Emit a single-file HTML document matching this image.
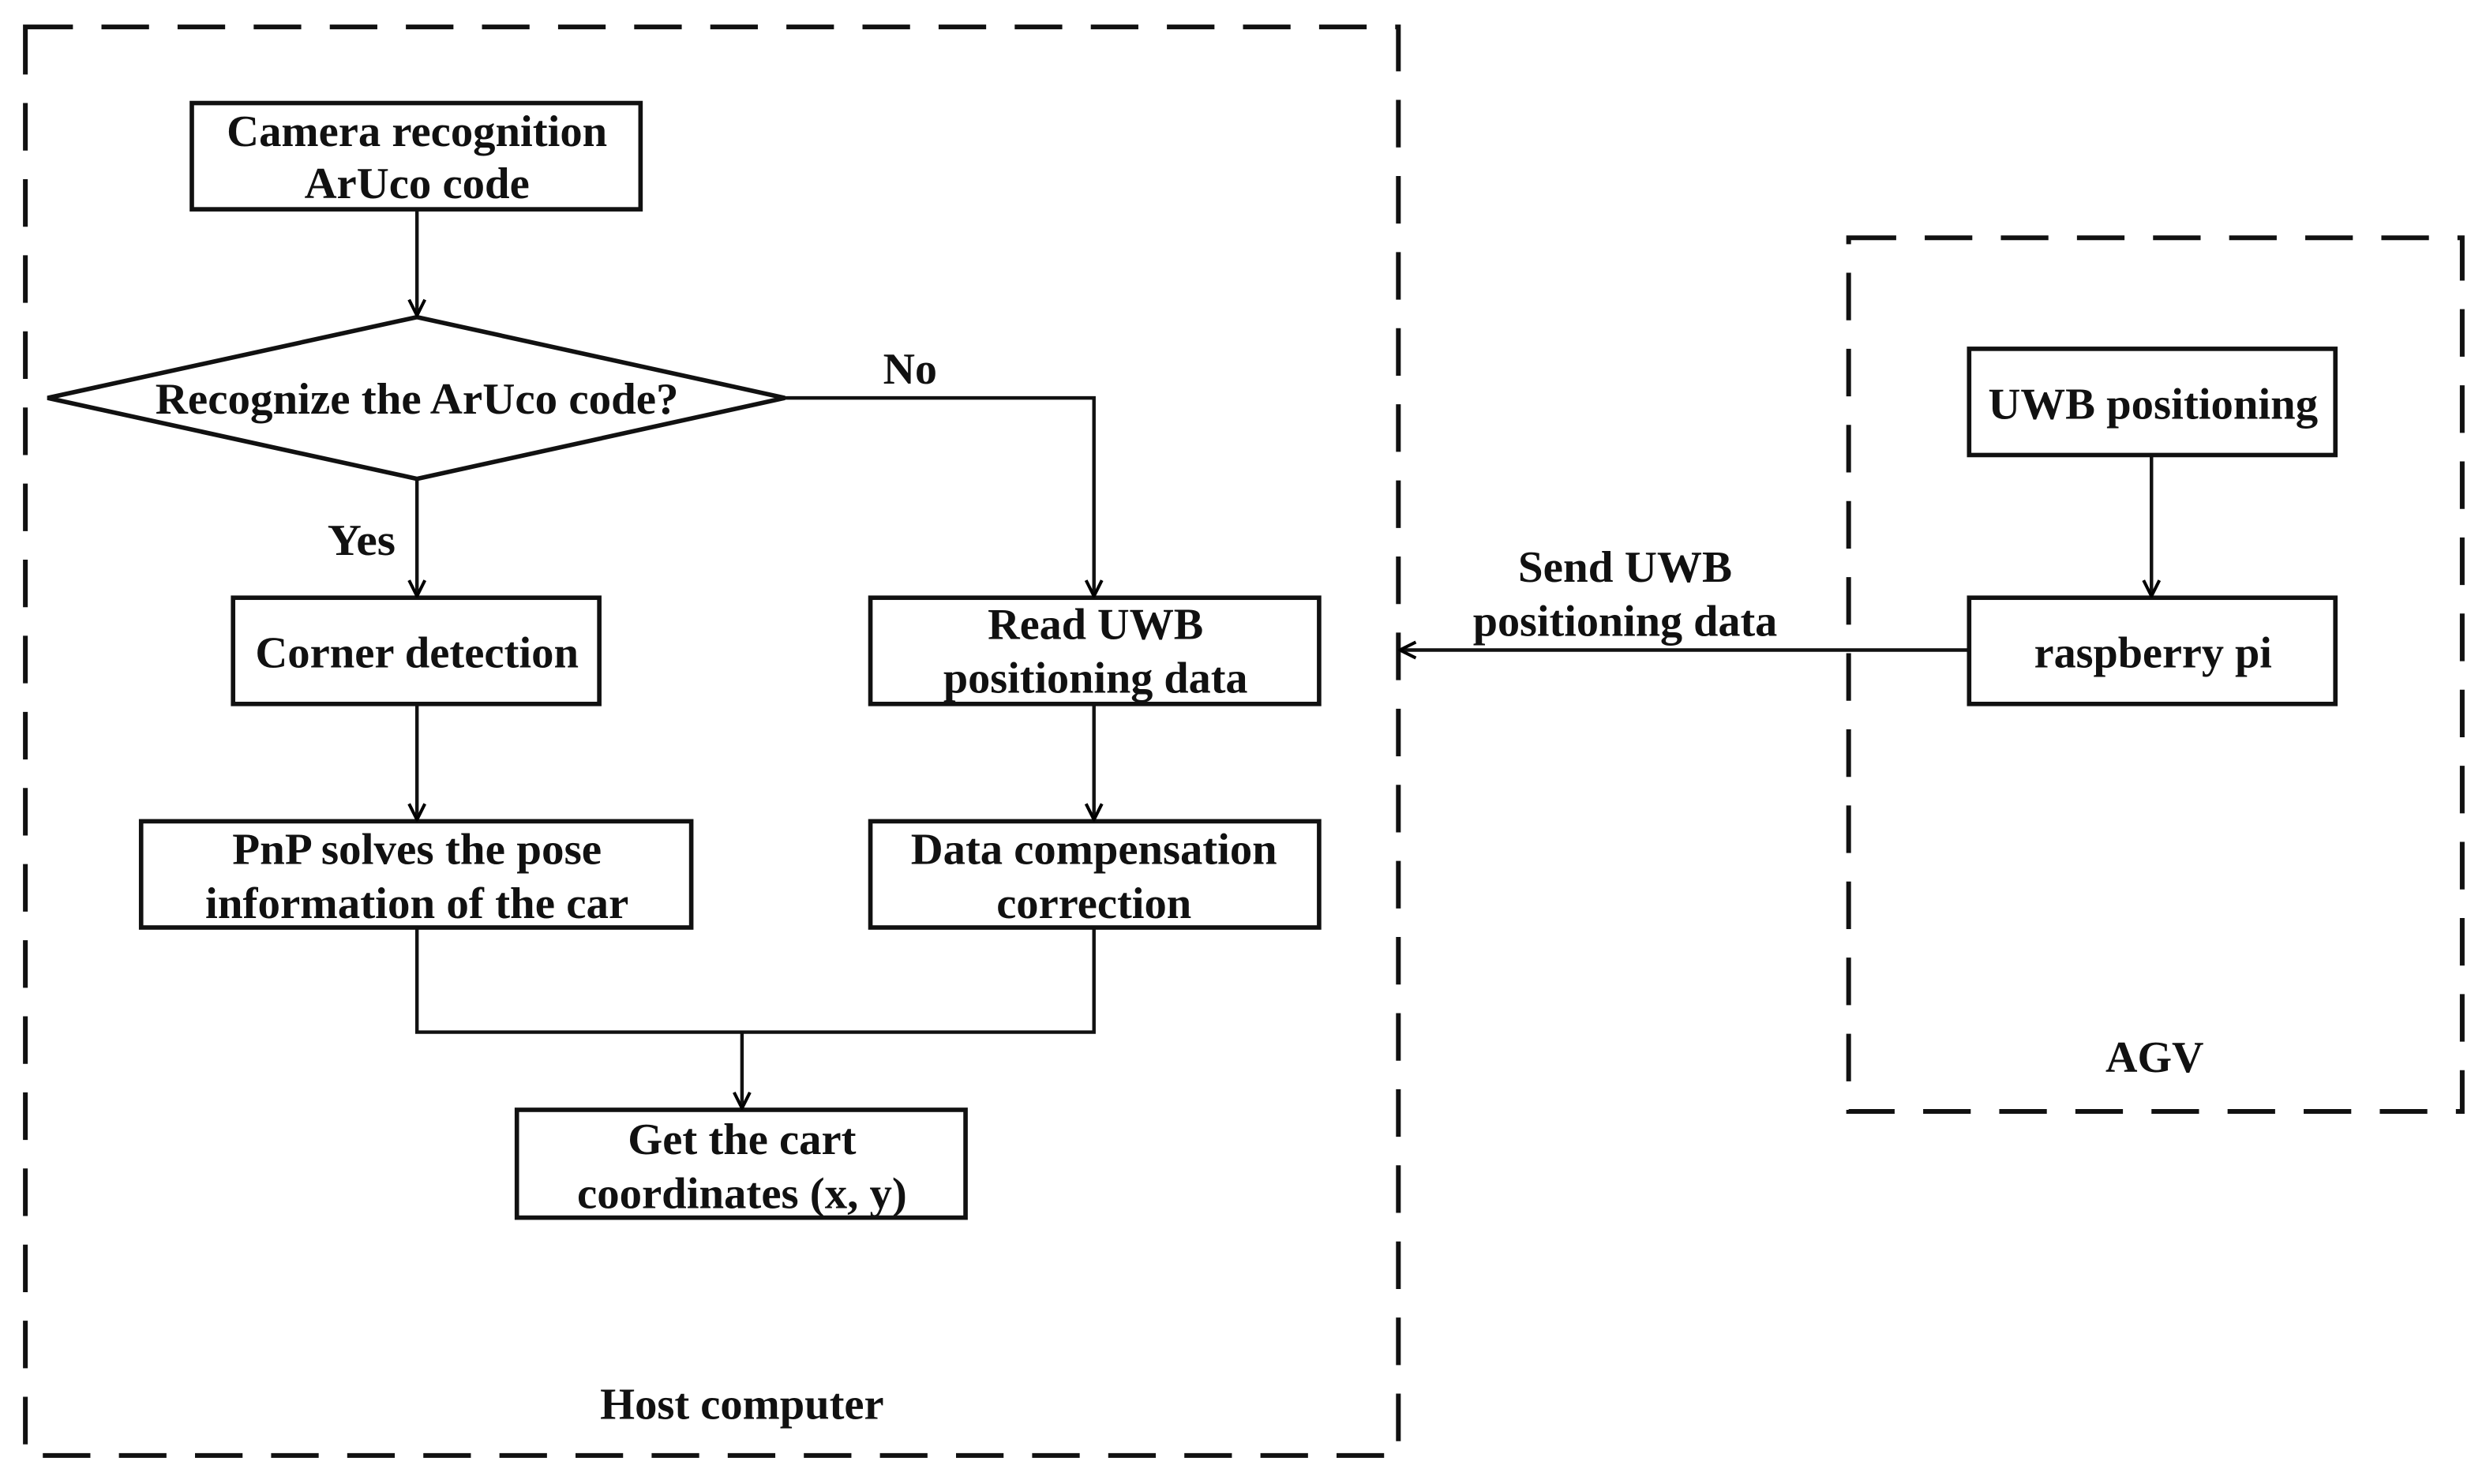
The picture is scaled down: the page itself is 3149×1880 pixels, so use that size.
<!DOCTYPE html>
<html><head><meta charset="utf-8"><style>html,body{margin:0;padding:0;background:#fff}svg{display:block}</style></head>
<body>
<svg width="3149" height="1880" viewBox="0 0 1568 936" preserveAspectRatio="none" xmlns="http://www.w3.org/2000/svg">
<defs>
<marker id="a" viewBox="0 0 12 12" refX="11" refY="6" markerWidth="12" markerHeight="12" markerUnits="userSpaceOnUse" orient="auto">
<path d="M1,1 L11,6 L1,11" fill="none" stroke="#000" stroke-width="2"/>
</marker>
</defs>
<g fill="none" stroke="#111" stroke-width="3" stroke-dasharray="30,18">
<rect x="16" y="17" width="866" height="901"/>
<rect x="1166" y="150" width="387" height="551"/>
</g>
<g fill="#fff" stroke="#111" stroke-width="2.8">
<rect x="121" y="65" width="283" height="67"/>
<polygon points="30,251 263,200 495,251 263,302"/>
<rect x="147" y="377" width="231" height="67"/>
<rect x="549" y="377" width="283" height="67"/>
<rect x="89" y="518" width="347" height="67"/>
<rect x="549" y="518" width="283" height="67"/>
<rect x="326" y="700" width="283" height="68"/>
<rect x="1242" y="220" width="231" height="67"/>
<rect x="1242" y="377" width="231" height="67"/>
</g>
<g fill="none" stroke="#111" stroke-width="2.2">
<path d="M263,132 V199" marker-end="url(#a)"/>
<path d="M263,302 V376" marker-end="url(#a)"/>
<path d="M495,251 H690 V376" marker-end="url(#a)"/>
<path d="M263,444 V517" marker-end="url(#a)"/>
<path d="M690,444 V517" marker-end="url(#a)"/>
<path d="M263,585 V651 H690 V585"/>
<path d="M468,651 V699" marker-end="url(#a)"/>
<path d="M1357,287 V376" marker-end="url(#a)"/>
<path d="M1242,410 H883" marker-end="url(#a)"/>
</g>
<g font-family="Liberation Serif, serif" font-weight="bold" font-size="28" fill="#111" text-anchor="middle">
<text x="263" y="92" textLength="240" lengthAdjust="spacingAndGlyphs">Camera recognition</text>
<text x="263" y="125" textLength="142" lengthAdjust="spacingAndGlyphs">ArUco code</text>
<text x="263" y="261" textLength="330" lengthAdjust="spacingAndGlyphs">Recognize the ArUco code?</text>
<text x="574" y="242" textLength="34" lengthAdjust="spacingAndGlyphs">No</text>
<text x="228" y="350" textLength="43" lengthAdjust="spacingAndGlyphs">Yes</text>
<text x="263" y="421" textLength="204" lengthAdjust="spacingAndGlyphs">Corner detection</text>
<text x="691" y="403" textLength="136" lengthAdjust="spacingAndGlyphs">Read UWB</text>
<text x="691" y="437" textLength="192" lengthAdjust="spacingAndGlyphs">positioning data</text>
<text x="263" y="545" textLength="233" lengthAdjust="spacingAndGlyphs">PnP solves the pose</text>
<text x="263" y="579" textLength="267" lengthAdjust="spacingAndGlyphs">information of the car</text>
<text x="690" y="545" textLength="231" lengthAdjust="spacingAndGlyphs">Data compensation</text>
<text x="690" y="579" textLength="123" lengthAdjust="spacingAndGlyphs">correction</text>
<text x="468" y="728" textLength="144" lengthAdjust="spacingAndGlyphs">Get the cart</text>
<text x="468" y="762" textLength="208" lengthAdjust="spacingAndGlyphs">coordinates (x, y)</text>
<text x="468" y="895" textLength="179" lengthAdjust="spacingAndGlyphs">Host computer</text>
<text x="1358" y="264" textLength="208" lengthAdjust="spacingAndGlyphs">UWB positioning</text>
<text x="1358" y="421" textLength="150" lengthAdjust="spacingAndGlyphs">raspberry pi</text>
<text x="1025" y="367" textLength="135" lengthAdjust="spacingAndGlyphs">Send UWB</text>
<text x="1025" y="401" textLength="192" lengthAdjust="spacingAndGlyphs">positioning data</text>
<text x="1359" y="676" textLength="62" lengthAdjust="spacingAndGlyphs">AGV</text>
</g>
</svg>
</body></html>
